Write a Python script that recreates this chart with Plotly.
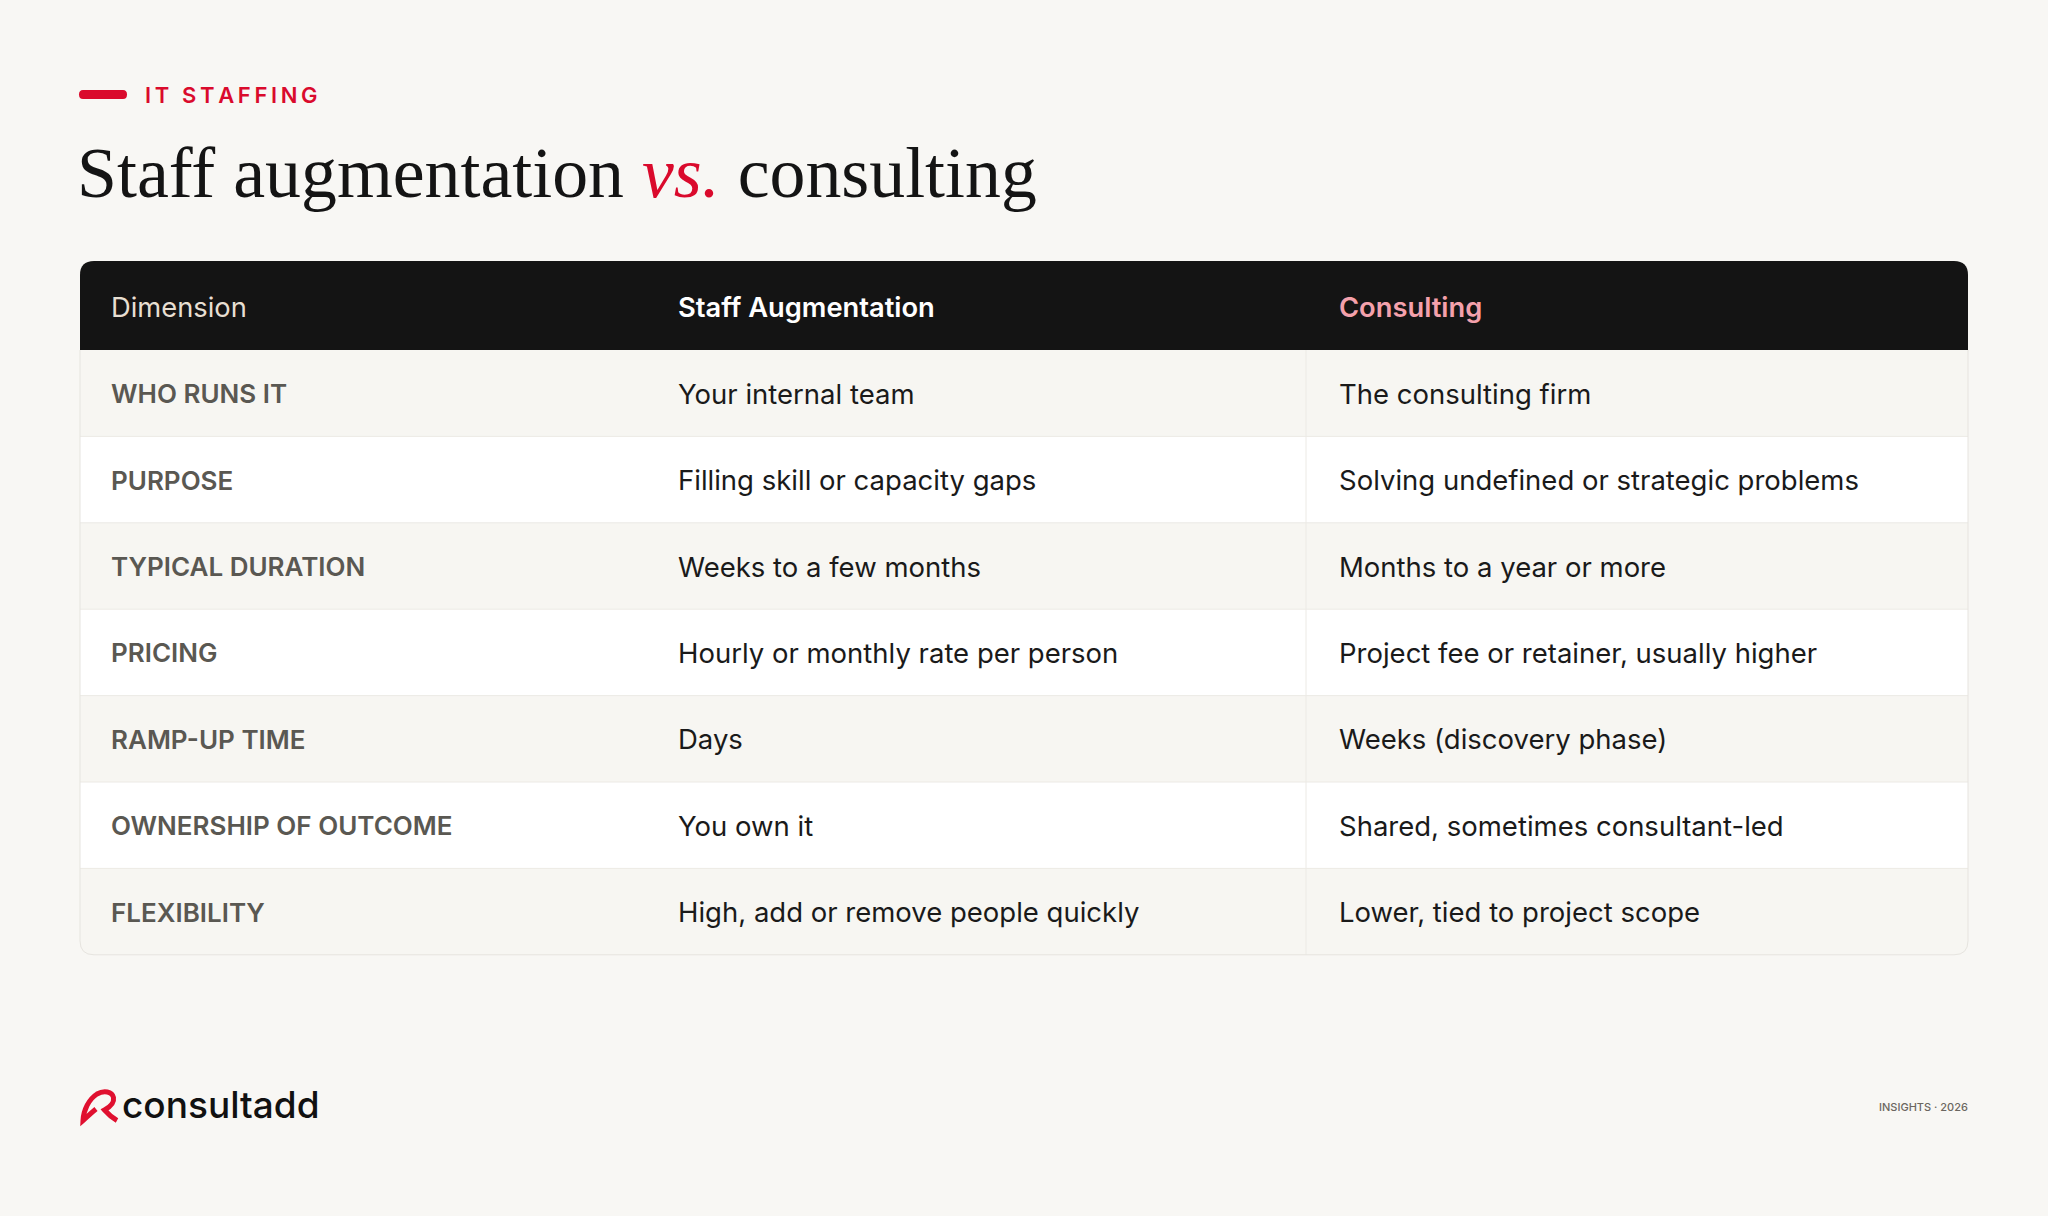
import plotly.graph_objects as go

# ---------------- data ----------------
eyebrow = "IT STAFFING"
title_left = "Staff augmentation"
title_mid = "vs."
title_right = "consulting"
headers = ["Dimension", "Staff Augmentation", "Consulting"]
dimensions = ["WHO RUNS IT", "PURPOSE", "TYPICAL DURATION", "PRICING",
              "RAMP-UP TIME", "OWNERSHIP OF OUTCOME", "FLEXIBILITY"]
staff_aug = ["Your internal team", "Filling skill or capacity gaps",
             "Weeks to a few months", "Hourly or monthly rate per person",
             "Days", "You own it", "High, add or remove people quickly"]
consulting = ["The consulting firm", "Solving undefined or strategic problems",
              "Months to a year or more", "Project fee or retainer, usually higher",
              "Weeks (discovery phase)", "Shared, sometimes consultant-led",
              "Lower, tied to project scope"]
brand = "consultadd"
footer_right = "INSIGHTS · 2026"

# ---------------- style / layout ----------------
W, H = 2048, 1216
BG = "#F8F7F4"
RED = "#DA0A2C"
SANS = "Inter, 'Noto Sans', sans-serif"
SERIF = "'Liberation Serif', 'DejaVu Serif', serif"

TL, TR = 80, 1968          # table left / right
HT, HB = 261, 350          # header top / bottom
ROW_H = 86.4
R = 14
col_x = [111, 678, 1339]
divider_x = 1306
TB = HB + ROW_H * len(dimensions)

def spaced(s, sep="\u2009"):
    return sep.join(list(s))

shapes = []
annotations = []

# header background with rounded top corners
shapes.append(dict(type="path", layer="below",
                   path=f"M {TL} {HB} L {TL} {HT+R} Q {TL} {HT} {TL+R} {HT} "
                        f"L {TR-R} {HT} Q {TR} {HT} {TR} {HT+R} L {TR} {HB} Z",
                   fillcolor="#141414", line=dict(width=0)))

# row backgrounds
for i in range(len(dimensions)):
    y0 = HB + i * ROW_H
    y1 = y0 + ROW_H
    fill = "#F7F6F2" if i % 2 == 0 else "#FFFFFF"
    if i == len(dimensions) - 1:
        path = (f"M {TL} {y0} L {TR} {y0} L {TR} {y1-R} Q {TR} {y1} {TR-R} {y1} "
                f"L {TL+R} {y1} Q {TL} {y1} {TL} {y1-R} Z")
        shapes.append(dict(type="path", layer="below", path=path,
                           fillcolor=fill, line=dict(width=0)))
    else:
        shapes.append(dict(type="rect", layer="below", x0=TL, x1=TR, y0=y0, y1=y1,
                           fillcolor=fill, line=dict(width=0)))
    if i > 0:
        shapes.append(dict(type="line", layer="below", x0=TL, x1=TR, y0=y0, y1=y0,
                           line=dict(color="#ECEAE5", width=1)))

# column divider
shapes.append(dict(type="line", layer="below", x0=divider_x, x1=divider_x, y0=HB, y1=TB,
                   line=dict(color="#ECEAE5", width=1)))

# outer border (sides + rounded bottom)
shapes.append(dict(type="path", layer="below",
                   path=f"M {TL} {HB} L {TL} {TB-R} Q {TL} {TB} {TL+R} {TB} "
                        f"L {TR-R} {TB} Q {TR} {TB} {TR} {TB-R} L {TR} {HB}",
                   line=dict(color="#E6E4DF", width=1)))

# eyebrow bar
shapes.append(dict(type="path", path="M 83 90 L 123 90 Q 127 90 127 94.5 Q 127 99 123 99 "
                                      "L 83 99 Q 79 99 79 94.5 Q 79 90 83 90 Z",
                   fillcolor=RED, line=dict(width=0)))

# logo swirl
shapes.append(dict(type="path",
                   path="M 96 1109 C 91 1113, 87 1117, 83 1120.5 "
                        "C 83.5 1110, 89 1099, 97 1094 "
                        "C 104 1090, 112 1091.5, 113.5 1097.5 "
                        "C 114.5 1103, 109 1107.5, 104.5 1110 "
                        "C 108.5 1114.5, 112.5 1118, 117 1120.5",
                   line=dict(color="#E0102F", width=5)))

def ann(x, y, text, size, color, family=SANS, weight=400, xanchor="left"):
    annotations.append(dict(x=x, y=y, xref="x", yref="y", text=text, showarrow=False,
                            xanchor=xanchor, yanchor="middle",
                            font=dict(family=family, size=size, color=color, weight=weight)))

ann(143, 95, spaced(eyebrow), 22, RED, weight=600)
ann(75, 173, f"{title_left} <i><span style='color:{RED}'>{title_mid}</span></i> {title_right}",
    71.8, "#141414", family=SERIF)

header_colors = ["#E7DFD2", "#FFFFFF", "#F4A1AC"]
header_weights = [400, 600, 600]
for j, h in enumerate(headers):
    ann(col_x[j] - 2, (HT + HB) / 2 + 1.5, h, 27.3, header_colors[j], weight=header_weights[j])

for i in range(len(dimensions)):
    yc = HB + (i + 0.5) * ROW_H + 0.5
    ann(col_x[0] - 2, yc, dimensions[i], 26, "#5A5852", weight=600)
    ann(col_x[1] - 2, yc, staff_aug[i], 27.5, "#1A1A1A")
    ann(col_x[2] - 2, yc, consulting[i], 27.5, "#1A1A1A")

ann(120, 1104, brand, 37, "#111111", weight=500)
ann(1970, 1107, footer_right, 11, "#6B6660", weight=500, xanchor="right")

fig = go.Figure()
fig.update_layout(
    width=W, height=H, margin=dict(l=0, r=0, t=0, b=0),
    paper_bgcolor=BG, plot_bgcolor=BG,
    xaxis=dict(range=[0, W], visible=False, fixedrange=True),
    yaxis=dict(range=[H, 0], visible=False, fixedrange=True),
    shapes=shapes, annotations=annotations, showlegend=False,
)
fig.write_html("out.html", config={"displayModeBar": False},
               post_script="document.body.style.margin='0';document.body.style.overflow='hidden';")
